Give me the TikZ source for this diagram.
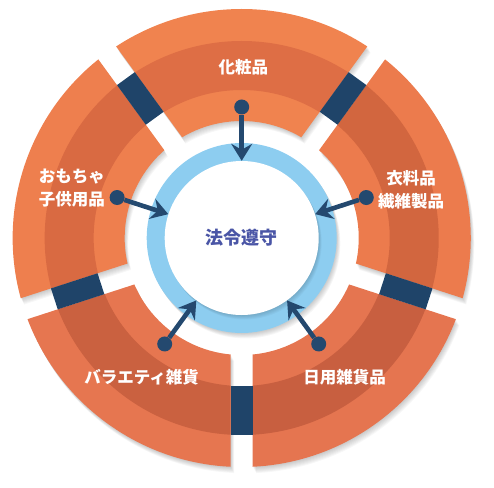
\documentclass[tikz,border=0pt]{standalone}
\usepackage{fontspec}
\newfontfamily\jp{Noto Sans CJK JP}
\usetikzlibrary{arrows.meta}
\definecolor{navy}{HTML}{1F4469}
\definecolor{arrownavy}{HTML}{24496F}
\definecolor{ringblue}{HTML}{8DCDF0}
\definecolor{coretext}{HTML}{4A55A6}
\definecolor{lA}{HTML}{F0834F}\definecolor{dA}{HTML}{DE6E45}
\definecolor{lB}{HTML}{EE7F4E}\definecolor{dB}{HTML}{D96A42}
\definecolor{lC}{HTML}{EC7B4D}\definecolor{dC}{HTML}{D2663F}
\definecolor{lD}{HTML}{E67650}\definecolor{dD}{HTML}{CA6140}
\definecolor{lE}{HTML}{E57550}\definecolor{dE}{HTML}{C85F40}
\newcommand\wedgeclip{\clip (18.7,0) -- (261.4,176.3) -- (261.4,-176.3) -- cycle;}
\newcommand\segpiece[3]{%
  \begin{scope}[rotate=#1]
    \wedgeclip
    \fill[#2, even odd rule] (0,0) circle[radius=229pt] (0,0) circle[radius=117pt];
    \fill[#3, even odd rule] (0,0) circle[radius=197pt] (0,0) circle[radius=148pt];
  \end{scope}}
\newcommand\segshade[1]{%
  \foreach \s in {1,...,7}{%
    \begin{scope}[shift={(0.5*\s,-0.9*\s)}]
      \begin{scope}[rotate=#1]
        \wedgeclip
        \fill[black, opacity=0.03, even odd rule] (0,0) circle[radius=229pt] (0,0) circle[radius=117pt];
      \end{scope}
    \end{scope}}}
\tikzset{
  lab/.style={text=white, font=\jp\bfseries\fontsize{16.5}{23}\selectfont, align=center, inner sep=0pt},
  dotnode/.style={circle, fill=arrownavy, minimum size=15pt, inner sep=0pt},
  arrowline/.style={draw=arrownavy, line width=4.6pt, -{Stealth[length=17pt,width=21pt,inset=6pt]}},
  corenode/.style={circle, fill=white, minimum size=154pt, inner sep=0pt, text=coretext,
    font=\jp\bfseries\fontsize{18}{20}\selectfont}
}
\begin{document}
\begin{tikzpicture}[x=1pt,y=1pt]
\useasboundingbox (-241.7,-249) rectangle (252.3,238);
% shadows of the segments
\foreach \a in {90,162,234,306,18} {\segshade{\a}}
% segments
\segpiece{90}{lA}{dA}
\segpiece{162}{lB}{dB}
\segpiece{18}{lC}{dC}
\segpiece{234}{lD}{dD}
\segpiece{306}{lE}{dE}
% navy connecting blocks in the gaps
\foreach \a in {270,342,54,126,198}
  \fill[navy, rotate=\a] (148,-11) rectangle (197,11);
% blue ring with shadow
\foreach \s in {1,...,6}
  \fill[black, opacity=0.035] (0.6*\s,-0.9*\s) circle[radius=95pt];
\node[circle, fill=ringblue, minimum size=190pt, inner sep=0pt] (ring) at (0,0) {};
\foreach \s in {1,...,5}
  \fill[black, opacity=0.03] (0.6*\s,-0.9*\s) circle[radius=77pt];
\node[corenode] (core) at (0,0) {法令遵守};
% dots and arrows
\foreach \a/\n in {90/1,162/2,234/3,306/4,18/5} {
  \node[dotnode] (d\n) at (\a:131) {};
  \draw[arrowline] (d\n) -- (core);
}
% labels
\node[lab] (l1) at (1.6,171) {化粧品};
\node[lab] (l2) at (-169.7,49.5) {おもちゃ\\子供用品};
\node[lab] (l3) at (169.3,48) {衣料品\\繊維製品};
\node[lab] (l4) at (-100,-139) {バラエティ雑貨};
\node[lab] (l5) at (103,-139) {日用雑貨品};
\end{tikzpicture}
\end{document}
